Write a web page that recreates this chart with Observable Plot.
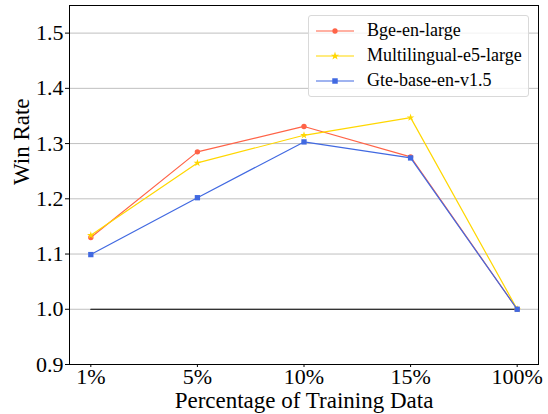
<!DOCTYPE html>
<html>
<head>
<meta charset="utf-8">
<script src="https://cdn.jsdelivr.net/npm/d3@7"></script>
<script src="https://cdn.jsdelivr.net/npm/@observablehq/plot@0.6"></script>
<style>
  html, body { margin: 0; padding: 0; background: #fff; }
  #wrap { position: relative; width: 548px; height: 414px; }
  #wrap, #wrap * { font-family: "Liberation Serif", "Times New Roman", serif !important; }
  #wrap svg g[aria-label="x-axis tick label"], #wrap svg g[aria-label="y-axis tick label"] { font-size: 22px; }
  #legend { position: absolute; left: 308px; top: 15px; width: 221px; height: 82px; border: 1px solid #d9d9d9; border-radius: 3px; background: rgba(255,255,255,0.8); box-sizing: border-box; padding: 2px 0 0 6px; }
  .item { display: flex; align-items: center; height: 25px; font-size: 18px; color: #000; }
  .item svg { margin-right: 12px; flex: none; }
</style>
</head>
<body>
<div id="wrap"></div>
<script>
const categories = ["1%", "5%", "10%", "15%", "100%"];
const seriesNames = ["Bge-en-large", "Multilingual-e5-large", "Gte-base-en-v1.5"];
const bge = [1.130, 1.285, 1.331, 1.276, 1.000];
const multilingual = [1.134, 1.265, 1.315, 1.347, 1.000];
const gte = [1.099, 1.202, 1.303, 1.274, 1.000];
const baseline = [1.0, 1.0, 1.0, 1.0, 1.0];
const yTicks = [0.9, 1.0, 1.1, 1.2, 1.3, 1.4, 1.5];
const colors = ["#ff6347", "#ffd700", "#4169e1"];
const symbols = ["circle", "star", "square"];
const symbolR = [2.7, 2.4, 3.0];

const values = [bge, multilingual, gte];
const data = [];
values.forEach((arr, s) => arr.forEach((v, i) => data.push({series: seriesNames[s], i, v})));
const base = baseline.map((v, i) => ({i, v}));

const marks = [
  Plot.ruleY(yTicks, {stroke: "#b0b0b0", strokeWidth: 0.8}),
  Plot.lineY(base, {x: "i", y: "v", stroke: "#000", strokeWidth: 1.2}),
];
seriesNames.forEach((name, s) => {
  const d = data.filter(r => r.series === name);
  marks.push(Plot.lineY(d, {x: "i", y: "v", stroke: colors[s], strokeWidth: 1.2}));
  marks.push(Plot.dot(d, {x: "i", y: "v", fill: colors[s], stroke: "none", symbol: () => symbols[s], r: symbolR[s]}));
});
marks.push(Plot.frame({stroke: "#000", strokeWidth: 1}));
marks.push(Plot.axisY({ticks: yTicks, tickFormat: d => d.toFixed(1), tickSize: 4, tickPadding: 2, fontSize: 22, label: null}));
marks.push(Plot.axisX({ticks: d3.range(categories.length), tickFormat: i => categories[i], tickSize: 3, tickPadding: 1, fontSize: 22, label: null}));
marks.push(Plot.text(["Win Rate"], {frameAnchor: "left", rotate: -90, dx: -48, fontSize: 23}));
marks.push(Plot.text(["Percentage of Training Data"], {frameAnchor: "bottom", lineAnchor: "middle", dy: 36, fontSize: 23}));

const chart = Plot.plot({
  width: 548,
  height: 414,
  marginLeft: 69,
  marginRight: 10,
  marginTop: 5,
  marginBottom: 50,
  style: {fontFamily: "'Liberation Serif', 'Times New Roman', serif", fontSize: "22px", color: "#000", background: "#fff", overflow: "visible"},
  x: {type: "linear", domain: [-0.2, categories.length - 1 + 0.2]},
  y: {domain: [0.9, 1.55]},
  marks
});
const wrap = document.getElementById("wrap");
wrap.appendChild(chart);

const legend = document.createElement("div");
legend.id = "legend";
seriesNames.forEach((name, s) => {
  const item = document.createElement("div");
  item.className = "item";
  const sym = d3.symbol(s === 0 ? d3.symbolCircle : s === 1 ? d3.symbolStar : d3.symbolSquare, s === 2 ? 30 : 22)();
  item.innerHTML = `<svg width="40" height="10"><line x1="1" x2="39" y1="5" y2="5" stroke="${colors[s]}" stroke-width="1.2"/><path d="${sym}" transform="translate(20,5)" fill="${colors[s]}"/></svg><span>${name}</span>`;
  legend.appendChild(item);
});
wrap.appendChild(legend);
</script>
</body>
</html>
